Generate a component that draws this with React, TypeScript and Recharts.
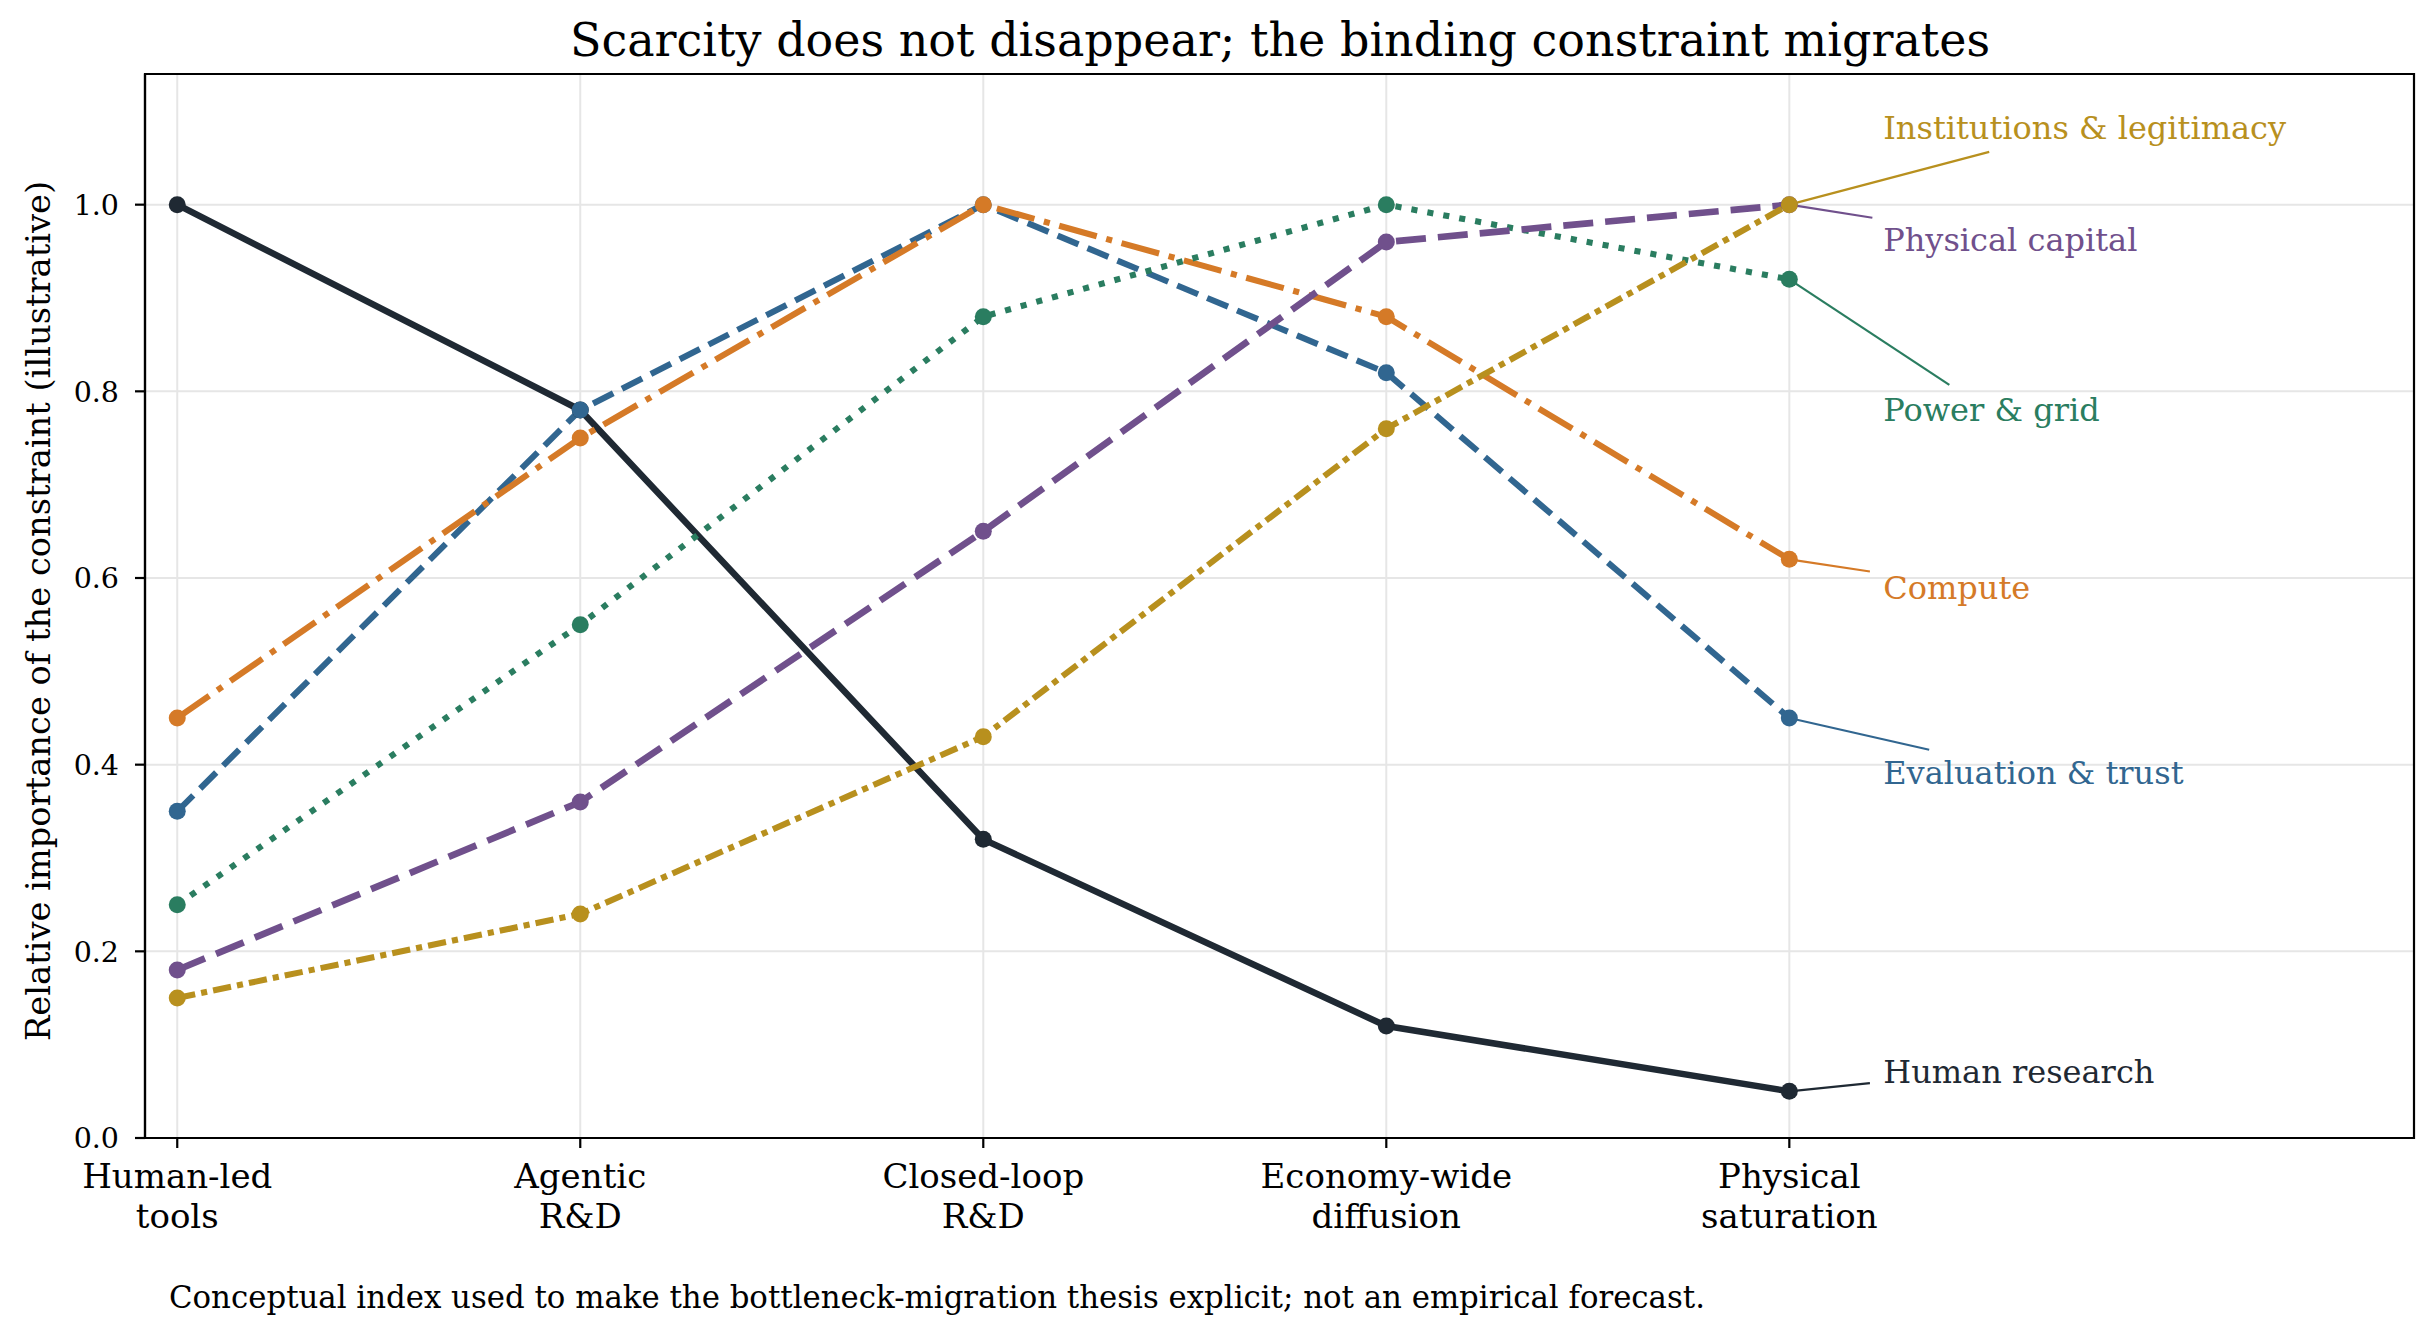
import React from 'react';
import {
  LineChart,
  Line,
  XAxis,
  YAxis,
  CartesianGrid,
  ReferenceLine,
  ReferenceDot,
  ReferenceArea,
} from 'recharts';

// ---------------- data ----------------
const categories: string[] = [
  'Human-led\ntools',
  'Agentic\nR&D',
  'Closed-loop\nR&D',
  'Economy-wide\ndiffusion',
  'Physical\nsaturation',
];

const humanResearch: number[] = [1.0, 0.78, 0.32, 0.12, 0.05];
const evaluationTrust: number[] = [0.35, 0.78, 1.0, 0.82, 0.45];
const compute: number[] = [0.45, 0.75, 1.0, 0.88, 0.62];
const powerGrid: number[] = [0.25, 0.55, 0.88, 1.0, 0.92];
const physicalCapital: number[] = [0.18, 0.36, 0.65, 0.96, 1.0];
const institutions: number[] = [0.15, 0.24, 0.43, 0.76, 1.0];

const yTicks: number[] = [0, 0.2, 0.4, 0.6, 0.8, 1.0];
const xTicks: number[] = [0, 1, 2, 3, 4];

const seriesNames = {
  human: 'Human research',
  evaluation: 'Evaluation & trust',
  compute: 'Compute',
  power: 'Power & grid',
  physical: 'Physical capital',
  institutions: 'Institutions & legitimacy',
};

const titleText = 'Scarcity does not disappear; the binding constraint migrates';
const yLabelText = 'Relative importance of the constraint (illustrative)';
const footnoteText =
  'Conceptual index used to make the bottleneck-migration thesis explicit; not an empirical forecast.';

// annotation anchors (data space): label position and leader-line end
const labelX = 4.233;
const labelY = {
  institutions: 1.085,
  physical: 0.965,
  power: 0.783,
  compute: 0.593,
  evaluation: 0.394,
  human: 0.074,
};
const leaderEnd = {
  institutions: [4.496, 1.0566],
  physical: [4.206, 0.986],
  power: [4.397, 0.807],
  compute: [4.2, 0.607],
  evaluation: [4.347, 0.416],
  human: [4.2, 0.0588],
};

// ---------------- styles ----------------
const W = 2436;
const H = 1337;
const FONT = "'DejaVu Serif', serif";
const X_DOMAIN: [number, number] = [-0.08, 5.55];
const Y_DOMAIN: [number, number] = [0, 1.14];

const colors = {
  human: '#1f2933',
  evaluation: '#316690',
  compute: '#d57a27',
  power: '#2a7d60',
  physical: '#70508c',
  institutions: '#b8901e',
};

const data = categories.map((c, i) => ({
  x: i,
  human: humanResearch[i],
  evaluation: evaluationTrust[i],
  compute: compute[i],
  power: powerGrid[i],
  physical: physicalCapital[i],
  institutions: institutions[i],
}));

const seriesOrder: { key: keyof typeof colors; width: number; dash?: string }[] = [
  { key: 'human', width: 6.5 },
  { key: 'evaluation', width: 6.1, dash: '22.6 9.8' },
  { key: 'compute', width: 6.1, dash: '39 9.8 6.1 9.8' },
  { key: 'power', width: 6.1, dash: '6.1 10.1' },
  { key: 'physical', width: 6.7, dash: '30 12' },
  { key: 'institutions', width: 6.1, dash: '18.3 6.1 6.1 6.1' },
];

const XTick = (props: any) => {
  const { x, y, payload } = props;
  const lines = categories[payload.value].split('\n');
  return (
    <text x={x} y={y} textAnchor="middle" fontFamily={FONT} fontSize={34} fill="#000">
      {lines.map((l, i) => (
        <tspan key={i} x={x} dy={i === 0 ? 38 : 40}>
          {l}
        </tspan>
      ))}
    </text>
  );
};

const YTick = (props: any) => {
  const { x, y, payload } = props;
  return (
    <text x={x - 14} y={y} dy="0.36em" textAnchor="end" fontFamily={FONT} fontSize={28.5} fill="#000">
      {Number(payload.value).toFixed(1)}
    </text>
  );
};

const makeLabel = (text: string, color: string) => (p: any) => (
  <text x={p.cx} y={p.cy} dy="0.44em" textAnchor="start" fontFamily={FONT} fontSize={32} fill={color}>
    {text}
  </text>
);

export default function App() {
  const keys = Object.keys(colors) as (keyof typeof colors)[];
  const lastIdx = categories.length - 1;
  const seriesValues: Record<string, number[]> = {
    human: humanResearch,
    evaluation: evaluationTrust,
    compute: compute,
    power: powerGrid,
    physical: physicalCapital,
    institutions: institutions,
  };
  return (
    <div style={{ position: 'absolute', left: 0, top: 0, width: W, height: H, background: '#fff' }}>
      <LineChart
        width={W}
        height={H}
        data={data}
        margin={{ top: 74, right: 22, left: 0, bottom: 0 }}
        style={{ fontFamily: FONT }}
      >
        <CartesianGrid stroke="#e6e6e6" strokeWidth={2} />
        <XAxis
          type="number"
          dataKey="x"
          domain={X_DOMAIN}
          ticks={xTicks}
          interval={0}
          allowDataOverflow
          height={199}
          tickSize={10}
          tick={<XTick />}
          tickLine={{ stroke: '#000', strokeWidth: 2.2 }}
          axisLine={{ stroke: '#000', strokeWidth: 2.2 }}
        />
        <YAxis
          type="number"
          domain={Y_DOMAIN}
          ticks={yTicks}
          interval={0}
          allowDataOverflow
          width={145}
          tickSize={10}
          tick={<YTick />}
          tickLine={{ stroke: '#000', strokeWidth: 2.2 }}
          axisLine={{ stroke: '#000', strokeWidth: 2.2 }}
        />
        <ReferenceArea
          x1={X_DOMAIN[0]}
          x2={X_DOMAIN[1]}
          y1={Y_DOMAIN[0]}
          y2={Y_DOMAIN[1]}
          fill="none"
          fillOpacity={0}
          stroke="#000"
          strokeWidth={2.2}
          ifOverflow="visible"
        />
        {seriesOrder.map((s) => (
          <Line
            key={s.key}
            type="linear"
            dataKey={s.key}
            name={seriesNames[s.key]}
            stroke={colors[s.key]}
            strokeWidth={s.width}
            strokeDasharray={s.dash}
            strokeLinejoin="round"
            dot={{ r: 8.5, fill: colors[s.key], stroke: 'none', strokeWidth: 0, strokeDasharray: '' }}
            activeDot={false}
            isAnimationActive={false}
          />
        ))}
        {keys.map((k) => (
          <ReferenceLine
            key={'lead-' + k}
            segment={[
              { x: lastIdx, y: seriesValues[k][lastIdx] },
              { x: leaderEnd[k][0], y: leaderEnd[k][1] },
            ]}
            stroke={colors[k]}
            strokeWidth={2.2}
            ifOverflow="visible"
          />
        ))}
        {keys.map((k) => (
          <ReferenceDot
            key={'lab-' + k}
            x={labelX}
            y={labelY[k]}
            r={0}
            ifOverflow="visible"
            shape={makeLabel(seriesNames[k], colors[k])}
          />
        ))}
      </LineChart>
      <svg
        width={W}
        height={H}
        style={{ position: 'absolute', left: 0, top: 0, pointerEvents: 'none' }}
      >
        <text x={1280} y={56} textAnchor="middle" fontFamily={FONT} fontSize={46} fill="#000">
          {titleText}
        </text>
        <text
          x={50}
          y={611}
          transform="rotate(-90 50 611)"
          textAnchor="middle"
          fontFamily={FONT}
          fontSize={33.7}
          fill="#000"
        >
          {yLabelText}
        </text>
        <text x={169} y={1308} fontFamily={FONT} fontSize={30.8} fill="#000">
          {footnoteText}
        </text>
      </svg>
    </div>
  );
}
